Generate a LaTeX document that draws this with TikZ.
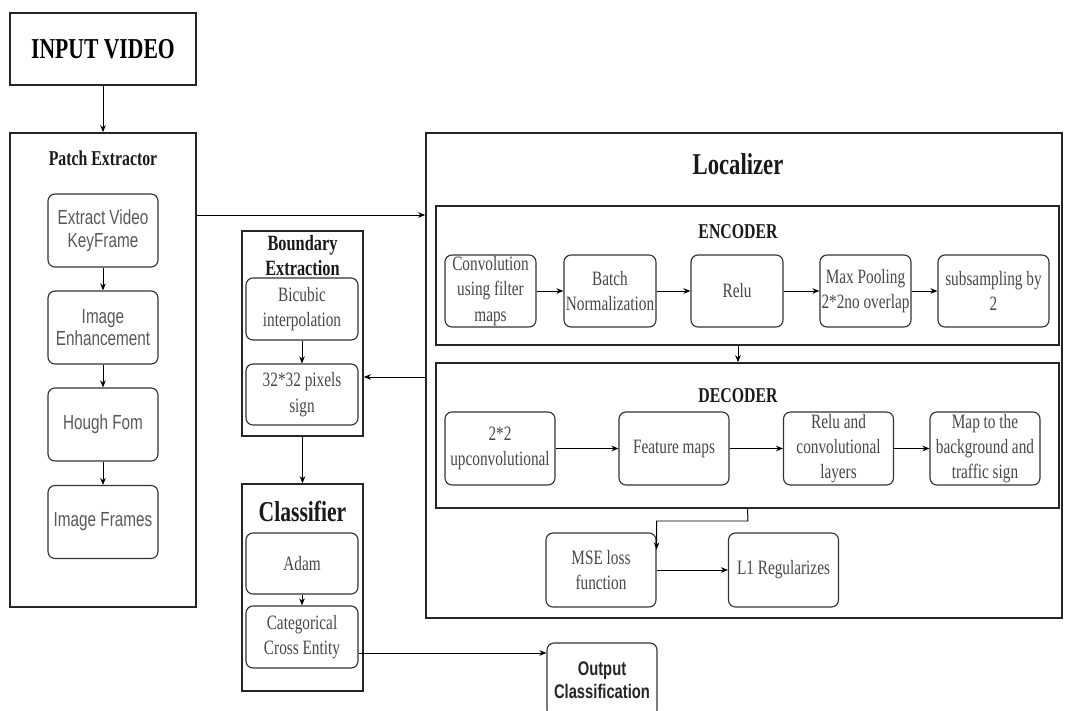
\documentclass[tikz,border=0pt]{standalone}
\usepackage{fontspec}
\setmainfont[FakeStretch=0.75]{Liberation Serif}
\setsansfont[FakeStretch=0.75]{Liberation Sans}
\usetikzlibrary{arrows.meta}

\begin{document}
\begin{tikzpicture}[
        x=0.025cm, y=-0.025cm,
        ->, >={Stealth[length=5pt,width=4pt]}, line width=0.7pt,
        frame/.style={draw=black!85, line width=1.1pt, inner sep=0pt},
        heading/.style={align=center, text=black!90, inner sep=0pt},
        proc/.style={draw=black!80, line width=0.8pt, rounded corners=5pt, align=center,
                inner sep=0.5pt, minimum width=2.75cm},
        sansproc/.style={proc, text=black!65,
                font=\sffamily\fontsize{14.5}{16}\selectfont},
        serifproc/.style={proc, text=black!72,
                font=\fontsize{14.5}{18}\selectfont}
    ]
    \useasboundingbox (0,0) rectangle (1067,711);
    \clip (0,0) rectangle (1067,711);

    % left column
    \node[frame, minimum width=4.65cm, minimum height=1.8cm,
        font=\bfseries\fontsize{20.5}{24}\selectfont] (input) at (103,49) {INPUT VIDEO};
    \node[frame, minimum width=4.65cm, minimum height=11.85cm] (patch) at (103,370) {};
    \node[heading, font=\bfseries\fontsize{15}{18}\selectfont] (patchtitle) at (103,158) {Patch Extractor};
    \node[sansproc, minimum height=1.825cm] (key) at (103,230.5) {Extract Video\\KeyFrame};
    \node[sansproc, minimum height=1.825cm] (enhance) at (103,327.5) {Image\\Enhancement};
    \node[sansproc, minimum height=1.825cm] (hough) at (103,424.5) {Hough Fom};
    \node[sansproc, minimum height=1.825cm] (frames) at (103,522) {Image Frames};

    % boundary extraction and classifier
    \node[frame, minimum width=3.025cm, minimum height=5.125cm] (boundary) at (302.5,333.5) {};
    \node[heading, font=\bfseries\fontsize{15.5}{18}\selectfont] (boundarytitle) at (302.5,255.5) {Boundary\\Extraction};
    \node[serifproc, minimum width=2.8cm, minimum height=1.55cm] (bicubic) at (302,309) {Bicubic\\interpolation};
    \node[serifproc, minimum width=2.8cm, minimum height=1.525cm] (pixels) at (302,394.5) {32*32 pixels\\sign};
    \node[frame, minimum width=3.025cm, minimum height=5.175cm] (classifier) at (302.5,587.5) {};
    \node[heading, font=\bfseries\fontsize{20.5}{24}\selectfont] (classtitle) at (302.5,511) {Classifier};
    \node[serifproc, minimum width=2.8cm, minimum height=1.525cm] (adam) at (302,563.5) {Adam};
    \node[serifproc, minimum width=2.8cm, minimum height=1.55cm] (cross) at (302,637) {Categorical\\Cross Entity};
    \node[proc, minimum height=1.85cm, text=black!85,
        font=\sffamily\bfseries\fontsize{14}{16}\selectfont] (output) at (602,680) {Output\\Classification};

    % localizer
    \node[frame, minimum width=15.9cm, minimum height=12.125cm] (localizer) at (744,375.5) {};
    \node[heading, font=\bfseries\fontsize{21.5}{24}\selectfont] (loctitle) at (738,164) {Localizer};
    \node[frame, minimum width=15.575cm, minimum height=3.475cm] (encoder) at (747.5,275.5) {};
    \node[heading, font=\bfseries\fontsize{15}{18}\selectfont] (enctitle) at (738,232) {ENCODER};
    \node[serifproc, minimum width=2.275cm, minimum height=1.8cm] (conv) at (490.5,291) {Convolution\\using filter\\maps};
    \node[serifproc, minimum width=2.3cm, minimum height=1.8cm] (batch) at (610,291) {Batch\\Normalization};
    \node[serifproc, minimum width=2.3cm, minimum height=1.8cm] (relu) at (737,291) {Relu};
    \node[serifproc, minimum width=2.275cm, minimum height=1.8cm] (pool) at (865.5,291) {Max Pooling\\2*2no overlap};
    \node[serifproc, minimum width=2.775cm, minimum height=1.8cm] (subsample) at (993.5,291) {subsampling by\\2};
    \node[frame, minimum width=15.575cm, minimum height=3.625cm] (decoder) at (747.5,435.5) {};
    \node[heading, font=\bfseries\fontsize{15}{18}\selectfont] (dectitle) at (738,396) {DECODER};
    \node[serifproc, minimum height=1.825cm] (upconv) at (500,448.5) {2*2\\upconvolutional};
    \node[serifproc, minimum height=1.825cm] (features) at (674,448.5) {Feature maps};
    \node[serifproc, minimum height=1.825cm] (reluconv) at (838.5,448.5) {Relu and\\convolutional\\layers};
    \node[serifproc, minimum height=1.825cm] (maptraffic) at (985,448.5) {Map to the\\background and\\traffic sign};
    \node[serifproc, minimum height=1.85cm] (mse) at (601,570) {MSE loss\\function};
    \node[serifproc, minimum height=1.85cm] (l1) at (783.5,570) {L1 Regularizes};
    \coordinate (turn) at (748,521);

    \draw (input) -- (patch);
    \draw (key) -- (enhance);
    \draw (enhance) -- (hough);
    \draw (hough) -- (frames);
    \draw (patch.east |- 0,215) -- (localizer.west |- 0,215);
    \draw (conv) -- (batch);
    \draw (batch) -- (relu);
    \draw (relu) -- (pool);
    \draw (pool) -- (subsample);
    \draw (encoder.south -| 738,0) -- (decoder.north -| 738,0);
    \draw (upconv) -- (features);
    \draw (features) -- (reluconv);
    \draw (reluconv) -- (maptraffic);
    \draw (decoder.south) -- (turn) -| ([yshift=-0.425cm]mse.north east);
    \draw (mse) -- (l1);
    \draw (localizer.west |- 0,377) -- (boundary.east |- 0,377);
    \draw (bicubic) -- (pixels);
    \draw (boundary) -- (classifier);
    \draw (adam) -- (cross);
    \draw (cross.east |- 0,653) -- (output.west |- 0,653);
\end{tikzpicture}
\end{document}
